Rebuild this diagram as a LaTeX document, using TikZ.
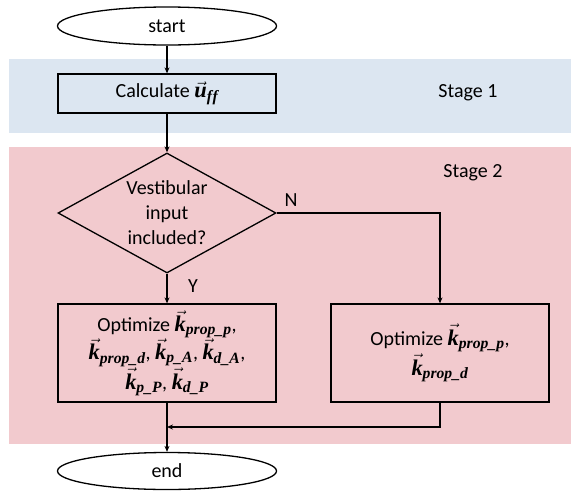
\documentclass[tikz,border=0pt]{standalone}
\usepackage{amsmath}
\usepackage{fontspec}
\setmainfont{Carlito}
\newfontfamily\symserif[Scale=1.12,Ligatures=NoCommon]{Liberation Serif}
\usetikzlibrary{shapes.geometric,arrows.meta}

\definecolor{stageblue}{RGB}{220,230,241}
\definecolor{stagepink}{RGB}{242,202,206}

% bold italic serif symbols with a vector arrow and a subscript
\newcommand{\bis}[1]{\text{\symserif\bfseries\itshape #1}}
\newcommand{\vsym}[2]{\vec{\bis{#1}}_{\bis{#2}}}

\begin{document}
\begin{tikzpicture}[x=1pt,y=-1pt,
  font=\fontsize{20}{25}\selectfont,
  line width=1.3pt,
  terminal/.style={draw,ellipse,minimum width=219pt,minimum height=38pt,inner sep=0pt},
  process/.style={draw,rectangle,minimum width=218pt,inner sep=0pt,align=center},
  decision/.style={draw,diamond,minimum width=218pt,minimum height=120pt,inner sep=0pt},
  flow/.style={-{Stealth[length=6pt,width=5pt]}},
  stagelabel/.style={font=\fontsize{20}{22}\selectfont}]
\useasboundingbox (0,0) rectangle (571,491);

% stage bands
\fill[stageblue] (9,59) rectangle (571,133);
\fill[stagepink] (9,147) rectangle (571,444);
\node[stagelabel] (s1) at (468,93) {Stage 1};
\node[stagelabel] (s2) at (473,173) {Stage 2};

% flow chart
\node[terminal] (start) at (167,26) {start};
\node[process,minimum height=39pt] (calc) at (167,93.5) {Calculate $\vsym{u}{f\kern0.04em f}$};
\node[decision] (dec) at (167,213) {};
\node[align=center] (dectext) at (dec.center) {Vestibular\\input\\included?};
\node[process,minimum height=98pt,font=\fontsize{20}{28}\selectfont] (optA) at (167,353)
  {Optimize $\vsym{k}{prop\_p}$,\\
   $\vsym{k}{prop\_d}$, $\vsym{k}{p\_A}$, $\vsym{k}{d\_A}$,\\
   $\vsym{k}{p\_P}$, $\vsym{k}{d\_P}$};
\node[process,minimum height=98pt,font=\fontsize{20}{30}\selectfont] (optB) at (440,353)
  {Optimize $\vsym{k}{prop\_p}$,\\ $\vsym{k}{prop\_d}$};
\node[terminal,minimum height=37pt] (end) at (167,471) {end};
\coordinate (merge) at (167,427);

% connectors
\draw[flow] (start) -- (calc);
\draw[flow] (calc) -- (dec);
\draw[flow] (dec) -- (optA);
\draw[flow] (dec.east) -| (optB.north);
\draw (optA.south) -- (merge);
\draw[flow] (optB.south) |- (merge);
\draw[flow] (merge) -- (end);

% branch labels
\node (ylab) at (193,286) {Y};
\node (nlab) at (291,200) {N};
\end{tikzpicture}
\end{document}
